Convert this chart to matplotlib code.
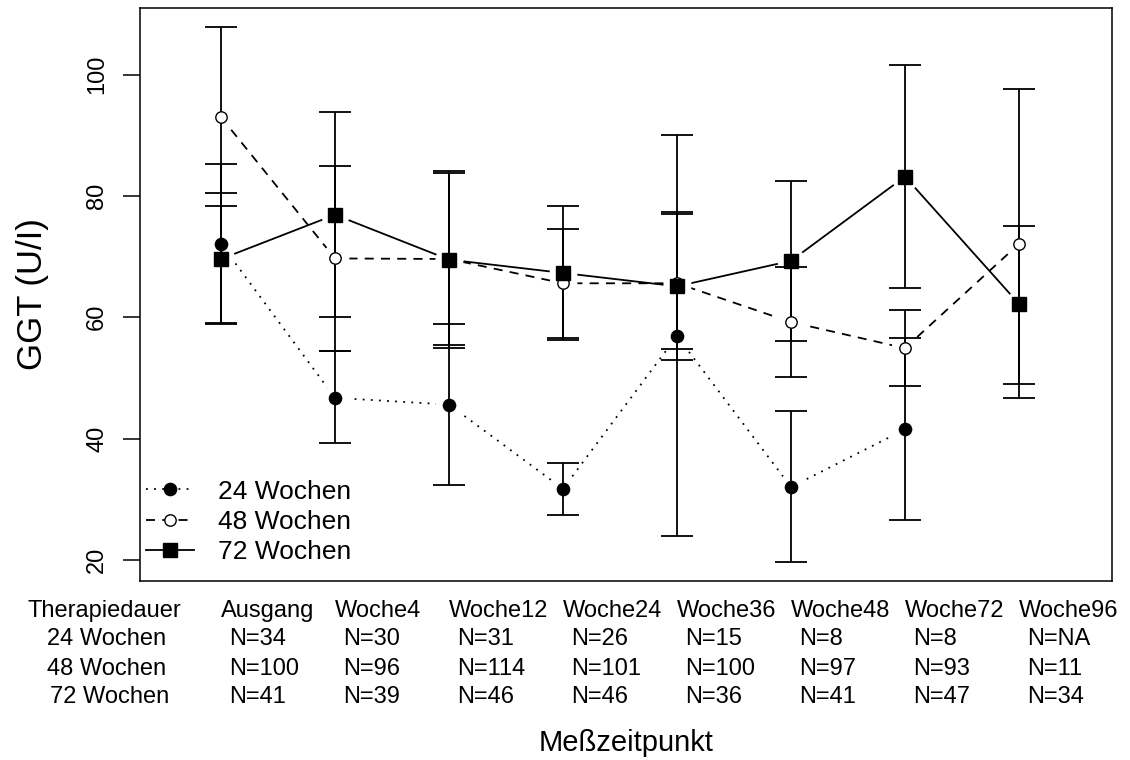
import numpy as np
import matplotlib
matplotlib.use("Agg")
import matplotlib.pyplot as plt

plt.rcParams['font.family'] = ['Liberation Sans', 'DejaVu Sans']

# ---- data ----
x_labels = ["Ausgang", "Woche4", "Woche12", "Woche24", "Woche36", "Woche48", "Woche72", "Woche96"]
series_names = ["24 Wochen", "48 Wochen", "72 Wochen"]

mean_24 = [72.1, 46.7, 45.6, 31.7, 56.9, 32.0, 41.5, np.nan]
upper_24 = [85.3, 54.4, 58.9, 36.0, 90.1, 44.6, 56.5, np.nan]
lower_24 = [58.9, 39.2, 32.3, 27.4, 23.9, 19.7, 26.6, np.nan]

mean_48 = [93.0, 69.7, 69.6, 65.6, 65.6, 59.2, 54.9, 72.1]
upper_48 = [107.8, 85.0, 83.8, 74.6, 77.0, 68.3, 61.2, 97.6]
lower_48 = [78.4, 54.5, 55.4, 56.6, 54.7, 50.1, 48.6, 46.7]

mean_72 = [69.6, 76.9, 69.5, 67.3, 65.1, 69.3, 83.2, 62.2]
upper_72 = [80.5, 93.8, 84.1, 78.4, 77.4, 82.5, 101.6, 75.1]
lower_72 = [59.0, 60.0, 54.9, 56.2, 53.0, 56.1, 64.8, 49.0]

n_24 = ["34", "30", "31", "26", "15", "8", "8", "NA"]
n_48 = ["100", "96", "114", "101", "100", "97", "93", "11"]
n_72 = ["41", "39", "46", "46", "36", "41", "47", "34"]

y_ticks = [20, 40, 60, 80, 100]

# ---- figure ----
fig = plt.figure(figsize=(11.3, 7.6), dpi=100)
ax = fig.add_axes([140 / 1130, 1 - 581 / 760, 972 / 1130, 573 / 760])

x = np.arange(1, len(x_labels) + 1)

styles = [
    dict(ls=(0, (1, 3.5)), marker='o', mfc='black', ms=8.8),
    dict(ls=(0, (5, 4)), marker='o', mfc='white', ms=8.2),
    dict(ls='-', marker='s', mfc='black', ms=10),
]
means = [mean_24, mean_48, mean_72]
uppers = [upper_24, upper_48, upper_72]
lowers = [lower_24, lower_48, lower_72]

lw = 1.3
handles = []
for m, st, name in zip(means, styles, series_names):
    ax.plot(x, m, color='black', lw=lw, ls=st['ls'], zorder=1)
for m in means:
    # white halo to produce the gap around points (type="b")
    ax.plot(x, m, ls='none', marker='o', ms=19, mfc='white', mec='white', zorder=2)
for m, up, lo in zip(means, uppers, lowers):
    m = np.array(m, float)
    up = np.array(up, float)
    lo = np.array(lo, float)
    ax.errorbar(x, m, yerr=[m - lo, up - m], fmt='none', ecolor='black',
                elinewidth=lw, capsize=11.5, capthick=lw, zorder=3)
for m, st, name in zip(means, styles, series_names):
    ax.plot(x, m, ls='none', marker=st['marker'], ms=st['ms'], mfc=st['mfc'],
            mec='black', mew=1.0, zorder=4)
    h, = ax.plot([], [], color='black', lw=lw, ls=st['ls'], marker=st['marker'],
                 ms=st['ms'], mfc=st['mfc'], mec='black', mew=1.0)
    handles.append(h)

ax.set_xlim(1 - 81 / 114, 8 + 93 / 114)
ax.set_ylim(16.5, 111.0)
ax.set_xticks([])
ax.set_yticks(y_ticks)
ax.set_yticklabels([str(t) for t in y_ticks], fontsize=17)
plt.setp(ax.get_yticklabels(), rotation=90, va='center')
ax.tick_params(axis='y', length=12, width=1.1, pad=11, direction='out')
for sp in ax.spines.values():
    sp.set_linewidth(1.1)
    sp.set_color('black')

ax.set_ylabel("GGT (U/I)", fontsize=25, va='center')
ax.yaxis.set_label_coords(-0.111, 0.5)

leg = ax.legend(handles, series_names, loc='lower left', bbox_to_anchor=(0.006, 0.03),
                frameon=False, fontsize=19, handlelength=1.82, handletextpad=0.9,
                labelspacing=0.23, borderpad=0, borderaxespad=0, numpoints=1)

# ---- table below ----
tr = ax.get_xaxis_transform()
row_y = [-0.0518, -0.101, -0.1536, -0.2024]
fs = 17
for xi, lab in zip(x, x_labels):
    ax.text(xi, row_y[0], lab, transform=tr, ha='left', va='center', fontsize=fs, clip_on=False)
for r, ns in zip(row_y[1:], [n_24, n_48, n_72]):
    for xi, n in zip(x, ns):
        ax.text(xi + 0.07, r, "N=" + n, transform=tr, ha='left', va='center', fontsize=fs, clip_on=False)

row_labels = ["Therapiedauer"] + series_names
row_cx = [104, 107, 107, 110]
for lab, cx, r in zip(row_labels, row_cx, row_y):
    ypix = 581 - r * 573
    fig.text(cx / 1130, 1 - ypix / 760, lab, ha='center', va='center', fontsize=fs)

ax.text(0.5, -0.2827, "Meßzeitpunkt", transform=ax.transAxes, ha='center', va='center',
        fontsize=21, clip_on=False)

fig.savefig("out.png", dpi=100)
